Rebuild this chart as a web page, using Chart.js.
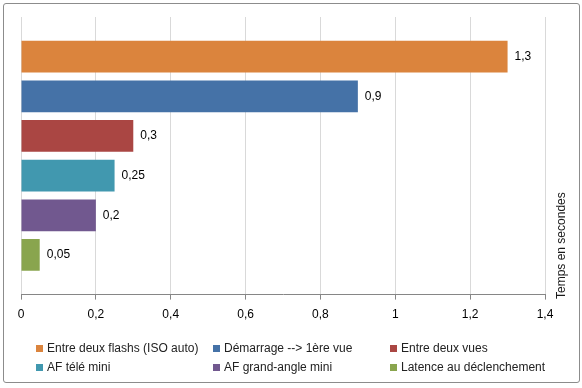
<!DOCTYPE html>
<html>
<head>
<meta charset="utf-8">
<script src="https://cdn.jsdelivr.net/npm/chart.js@4/dist/chart.umd.min.js"></script>
<style>
  body { margin: 0; background: #fff; }
  #wrap { position: relative; width: 582px; height: 388px; }
  #frame { position: absolute; left: 3px; top: 3px; width: 575px; height: 378px; border: 1px solid #8c8c8c; border-radius: 3px; }
  #chart { position: absolute; left: 0; top: 0; }
  #legend { position: absolute; left: 0; top: 341px; width: 582px; font: 12px "Liberation Sans", Arial, sans-serif; color: #222; }
  .item { position: absolute; display: flex; align-items: center; white-space: nowrap; }
  .box { width: 7px; height: 7px; margin-right: 4px; }
</style>
</head>
<body>
<div id="wrap">
  <div id="frame"></div>
  <canvas id="chart" width="582" height="388"></canvas>
  <div id="legend"></div>
</div>
<script>
const categories = [""];
const seriesNames = [
  "Entre deux flashs (ISO auto)",
  "Démarrage --> 1ère vue",
  "Entre deux vues",
  "AF télé mini",
  "AF grand-angle mini",
  "Latence au déclenchement"
];
const seriesValues = [1.3, 0.9, 0.3, 0.25, 0.2, 0.05];
const seriesColors = ["#DB843D", "#4572A7", "#AA4643", "#4198AF", "#71588F", "#89A54E"];
const axisTitle = "Temps en secondes";

const fontFamily = '"Liberation Sans", Arial, sans-serif';

function fmt(v) {
  return String(v).replace(".", ",");
}

// value next to the end of each bar
const valueLabels = {
  id: "valueLabels",
  afterDatasetsDraw(chart) {
    const ctx = chart.ctx;
    ctx.save();
    ctx.font = "12px " + fontFamily;
    ctx.fillStyle = "#000";
    ctx.textBaseline = "middle";
    chart.data.datasets.forEach((ds, i) => {
      const bar = chart.getDatasetMeta(i).data[0];
      ctx.fillText(fmt(ds.data[0]), bar.x + 7, bar.y);
    });
    ctx.restore();
  }
};

// rotated title on the right, reads bottom to top
const sideTitle = {
  id: "sideTitle",
  afterDraw(chart) {
    const ctx = chart.ctx;
    ctx.save();
    ctx.translate(562, 299);
    ctx.rotate(-Math.PI / 2);
    ctx.font = "12px " + fontFamily;
    ctx.fillStyle = "#1a1a1a";
    ctx.textAlign = "left";
    ctx.textBaseline = "middle";
    ctx.fillText(axisTitle, 0, 0);
    ctx.restore();
  }
};

const chart = new Chart(document.getElementById("chart"), {
  type: "bar",
  data: {
    labels: categories,
    datasets: seriesNames.map((name, i) => ({
      label: name,
      data: [seriesValues[i]],
      backgroundColor: seriesColors[i],
      categoryPercentage: 0.857,
      barPercentage: 0.8
    }))
  },
  options: {
    indexAxis: "y",
    responsive: false,
    animation: false,
    layout: { padding: { top: 17, right: 37, left: 21, bottom: 58 } },
    plugins: {
      legend: { display: false },
      tooltip: { enabled: false }
    },
    scales: {
      x: {
        min: 0,
        max: 1.4,
        ticks: {
          stepSize: 0.2,
          color: "#000",
          font: { family: fontFamily, size: 12 },
          padding: 8,
          callback: (v) => fmt(Math.round(v * 10) / 10)
        },
        grid: { color: "#d9d9d9", tickColor: "#868686", tickLength: 5 },
        border: { color: "#868686" }
      },
      y: { display: false }
    }
  },
  plugins: [valueLabels, sideTitle]
});

// legend in three columns, like the original
const legend = document.getElementById("legend");
const colX = [36, 213, 390];
chart.data.datasets.forEach((ds, i) => {
  const item = document.createElement("div");
  item.className = "item";
  item.style.left = colX[i % 3] + "px";
  item.style.top = (Math.floor(i / 3) * 19) + "px";
  const box = document.createElement("span");
  box.className = "box";
  box.style.background = ds.backgroundColor;
  item.appendChild(box);
  item.appendChild(document.createTextNode(ds.label));
  legend.appendChild(item);
});
</script>
</body>
</html>
